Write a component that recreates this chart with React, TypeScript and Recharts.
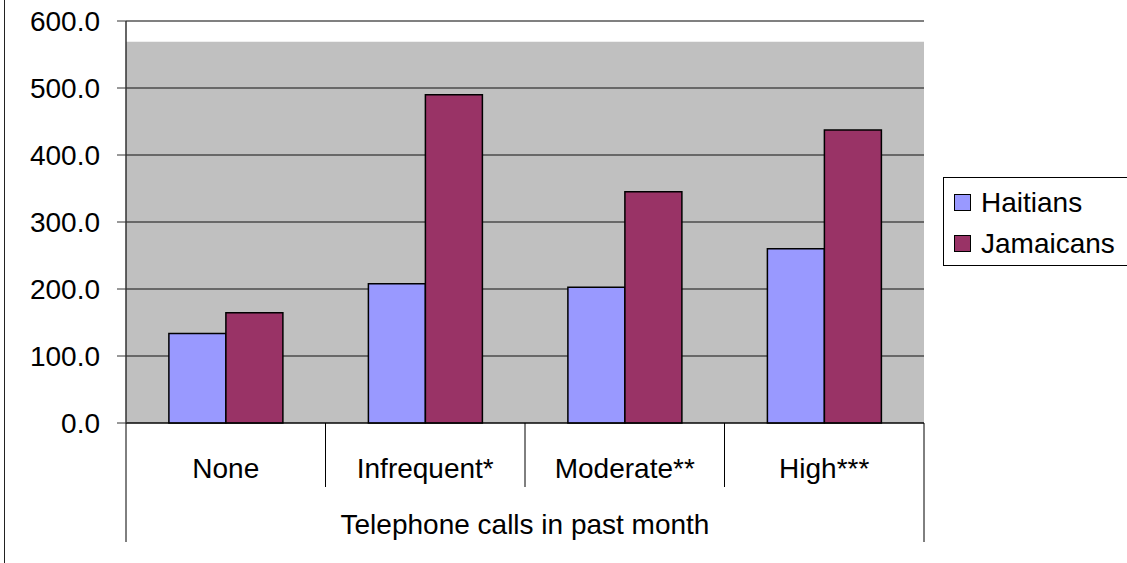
import React from 'react';
import { BarChart, Bar, XAxis, YAxis, CartesianGrid, ReferenceArea, ReferenceLine } from 'recharts';

const categories = ['None', 'Infrequent*', 'Moderate**', 'High***'];
const haitians = [133.5, 208.0, 202.5, 260.0];
const jamaicans = [164.5, 490.0, 345.0, 437.5];
const yTicks = [0, 100, 200, 300, 400, 500, 600];
const groupLabel = 'Telephone calls in past month';

const seriesNames = ['Haitians', 'Jamaicans'];
const seriesColors = ['#9999ff', '#993366'];

const data = categories.map((name, i) => ({
  name,
  Haitians: haitians[i],
  Jamaicans: jamaicans[i],
}));

const FONT = '"Liberation Sans", Arial, sans-serif';

const CategoryTick = (props: any) => {
  const { x, y, payload, index, visibleTicksCount } = props;
  const band = 798 / categories.length;
  const left = x - band / 2;
  const right = x + band / 2;
  const last = index === (visibleTicksCount ?? categories.length) - 1;
  return (
    <g>
      <line x1={left} y1={y} x2={left} y2={y + (index === 0 ? 119 : 64)} stroke="#000" strokeWidth={1} />
      {last && <line x1={right} y1={y} x2={right} y2={y + 119} stroke="#000" strokeWidth={1} />}
      <text x={x} y={y + 55} textAnchor="middle" fontSize={28} fontFamily={FONT} fill="#000">
        {payload.value}
      </text>
    </g>
  );
};

const LegendBox = () => (
  <div
    style={{
      position: 'absolute',
      left: 943,
      top: 177,
      border: '1px solid #000',
      background: '#fff',
      width: 186,
      height: 89,
      boxSizing: 'border-box',
      fontFamily: FONT,
      fontSize: 28,
      color: '#000',
      paddingTop: 4,
    }}
  >
    {seriesNames.map((s, i) => (
      <div key={s} style={{ display: 'flex', alignItems: 'center', height: 41, paddingLeft: 10 }}>
        <span
          style={{
            display: 'inline-block',
            width: 15,
            height: 15,
            background: seriesColors[i],
            border: '1.5px solid #000',
            marginRight: 10,
          }}
        />
        <span>{s}</span>
      </div>
    ))}
  </div>
);

export default function App() {
  return (
    <div style={{ position: 'absolute', left: 0, top: 0, width: 1127, height: 563, background: '#fff', overflow: 'hidden' }}>
      <div style={{ position: 'absolute', left: 4, top: 0, width: 1, height: 563, background: '#222' }} />
      <BarChart
        width={1127}
        height={563}
        data={data}
        margin={{ top: 21, right: 203, left: 0, bottom: 0 }}
        barCategoryGap="21.5%"
        barGap={0}
      >
        <CartesianGrid vertical={false} horizontal fill="#c0c0c0" stroke="#111" strokeWidth={1} />
        <ReferenceArea y1={569} y2={600} fill="#ffffff" fillOpacity={1} stroke="none" />
        <ReferenceLine y={600} stroke="#808080" strokeWidth={2} />
        <XAxis
          dataKey="name"
          height={140}
          axisLine={{ stroke: '#000' }}
          tickLine={false}
          tickSize={0}
          tickMargin={0}
          tick={<CategoryTick />}
          interval={0}
          label={{ value: groupLabel, position: 'insideBottom', offset: 29, fontSize: 28, fontFamily: FONT, fill: '#000' }}
        />
        <YAxis
          width={126}
          domain={[0, 600]}
          ticks={yTicks}
          interval={0}
          tickFormatter={(v: number) => v.toFixed(1)}
          tick={{ fontSize: 28, fontFamily: FONT, fill: '#000' }}
          tickSize={9}
          tickMargin={17}
          axisLine={{ stroke: '#333', strokeWidth: 1.5 }}
          tickLine={{ stroke: '#333' }}
        />
        <YAxis
          yAxisId="right"
          orientation="right"
          width={0}
          domain={[0, 600]}
          tick={false}
          tickLine={false}
          axisLine={{ stroke: '#808080', strokeWidth: 2 }}
        />
        {seriesNames.map((s, i) => (
          <Bar
            key={s}
            dataKey={s}
            fill={seriesColors[i]}
            stroke="#000"
            strokeWidth={1.5}
            isAnimationActive={false}
          />
        ))}
      </BarChart>
      <LegendBox />
    </div>
  );
}
